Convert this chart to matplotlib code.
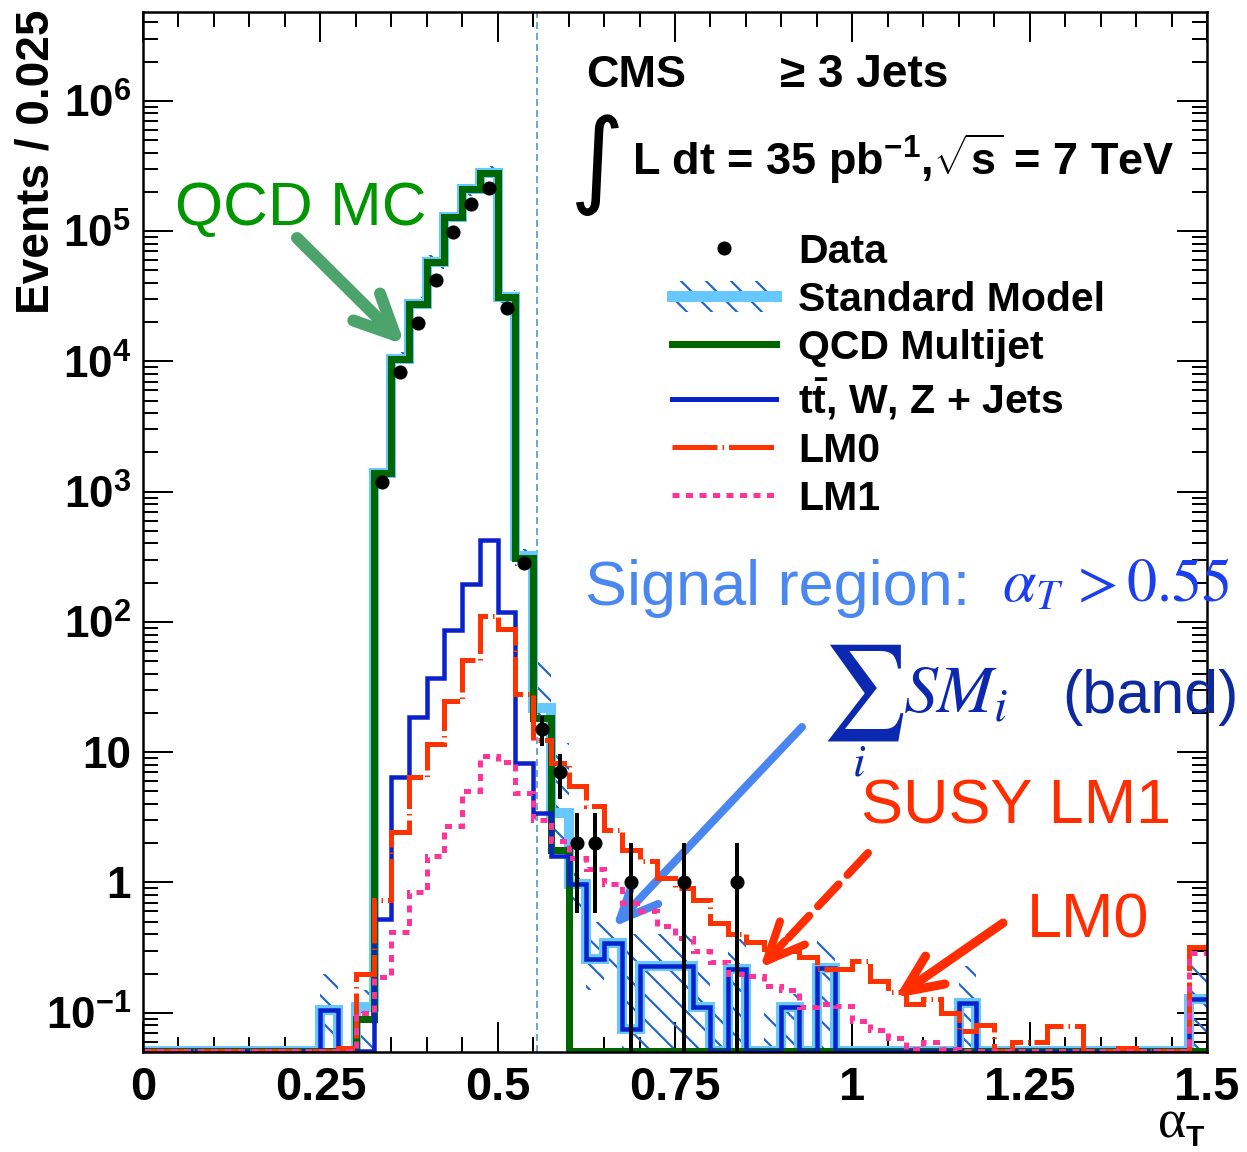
import numpy as np
import matplotlib
matplotlib.use("Agg")
import matplotlib.pyplot as plt
from matplotlib.lines import Line2D
from matplotlib.patches import Patch
from matplotlib.legend_handler import HandlerTuple
from matplotlib.ticker import FixedLocator, MultipleLocator, LogLocator, NullFormatter

W, H, DPI = 1247, 1152, 150
PT = 72.0 / DPI          # points per output pixel

# ---------------- data (60 bins of 0.025 in alpha_T, 0 .. 1.5) ----------------
bin_width = 0.025
n_bins = 60

qcd = [0]*12 + [0.09, 1400, 10400, 27400, 57500, 129000, 209000, 280000,
                31300, 311, 18.3, 1.79] + [0]*36

ewk = [0]*10 + [0.105, 0, 0.02, 0.52, 6.5, 18.5, 37.4, 86.5, 194, 427, 119,
                8.3, 3.4, 1.6, 0.97, 0.257, 0.345, 0.075, 0.228, 0.228, 0.228,
                0.11, 0, 0.215, 0, 0, 0.11, 0, 0.22] + [0]*7 + [0.118] + [0]*12 + [0.127]

lm0 = [0]*11 + [0.054, 0.2, 0.74, 2.46, 6.4, 11.5, 24.9, 50.7, 112, 88, 28,
                12.5, 8.3, 5.5, 3.85, 2.55, 1.79, 1.46, 1.09, 0.91, 0.74, 0.49,
                0.40, 0.35, 0.31, 0.30, 0.27, 0.215, 0.215, 0.25, 0.175, 0.145,
                0.116, 0.127, 0.10, 0.072, 0.08, 0, 0.06, 0.06, 0.079, 0.079,
                0, 0, 0.054, 0, 0, 0, 0.32]

lm1 = [0]*12 + [0.1, 0.187, 0.42, 0.84, 1.6, 2.7, 5.0, 9.35, 8.4, 4.9, 3.0,
                2.1, 1.55, 1.26, 0.97, 0.70, 0.60, 0.46, 0.377, 0.297, 0.245,
                0.20, 0.19, 0.16, 0.15, 0.11, 0.116, 0.113, 0.086, 0.074,
                0.064, 0.053, 0.06, 0.053] + [0]*13 + [0.29]

data = [0]*13 + [1180, 8340, 19800, 42100, 97700, 160000, 215000, 25500, 283,
                 15, 7, 2, 2, 0, 1, 0, 0, 1, 0, 0, 1] + [0]*26

# SM uncertainty band (lower / upper edge per bin)
band_hi = [0]*10 + [0.2, 0, 0.15, 1600, 11800, 31000, 65000, 146000, 236000,
                    316000, 35500, 360, 49, 11.8, 1.45, 0.5, 0.5, 0.4, 0.4, 0.4,
                    0.4, 0.22, 0.1, 0.37, 0, 0.12, 0.14, 0, 0.37] + [0]*7 + [0.23] + [0]*12 + [0.24]
band_lo = [0]*13 + [1250, 9300, 24500, 51000, 115000, 186000, 250000, 28000,
                    270, 19, 2.0, 0.5, 0.15, 0.2] + [0]*33

xtick_vals = [0, 0.25, 0.5, 0.75, 1.0, 1.25, 1.5]
xtick_labels = ["0", "0.25", "0.5", "0.75", "1", "1.25", "1.5"]
ytick_vals = [0.1, 1, 10, 100, 1e3, 1e4, 1e5, 1e6]
ytick_labels = [r"$\mathbf{10^{-1}}$", "1", "10", r"$\mathbf{10^{2}}$",
                r"$\mathbf{10^{3}}$", r"$\mathbf{10^{4}}$", r"$\mathbf{10^{5}}$",
                r"$\mathbf{10^{6}}$"]
signal_cut = 0.555

legend_labels = ["Data", "Standard Model", "QCD Multijet",
                 r"$\mathbf{t\bar{t}}$, W, Z + Jets", "LM0", "LM1"]

# ---------------- style ----------------
GREEN = "#006600"
BLUE = "#0a22cc"
RED = "#ff3300"
PINK = "#ff3399"
SMC = "#66c8ff"
HATCH = "#2266cc"

plt.rcParams.update({
    "font.family": ["Liberation Sans", "DejaVu Sans"],
    "mathtext.fontset": "custom",
    "mathtext.rm": "Liberation Sans:bold",
    "mathtext.bf": "Liberation Sans:bold",
    "mathtext.it": "Liberation Sans:bold:italic",
    "mathtext.sf": "Liberation Sans:bold",
    "hatch.linewidth": 2.2 * PT,
    "hatch.color": HATCH,
    "lines.scale_dashes": False,
})

YMIN, YMAX = 0.05, 4.8e6
FLOOR = YMIN * 1.02

edges = np.linspace(0, n_bins * bin_width, n_bins + 1)
centers = 0.5 * (edges[:-1] + edges[1:])

fig = plt.figure(figsize=(W / DPI, H / DPI), dpi=DPI)
ax = fig.add_axes([143 / W, 1 - 1052 / H, 1064 / W, 1040 / H])
ax.set_yscale("log")
ax.set_xlim(0, 1.5)
ax.set_ylim(YMIN, YMAX)

qcd_a = np.array(qcd, float)
ewk_a = np.array(ewk, float)
sm_a = qcd_a + ewk_a

# hatched SM band
lo = np.clip(np.array(band_lo, float), FLOOR, None)
hi = np.clip(np.array(band_hi, float), FLOOR, None)
ax.fill_between(edges, np.append(lo, lo[-1]), np.append(hi, hi[-1]), step="post",
                facecolor="none", edgecolor=HATCH, hatch="\\\\", linewidth=0, zorder=2)

# signal region line
ax.axvline(signal_cut, color="#4f8fd6", lw=1.6 * PT, ls=(0, (7 * PT, 4 * PT)), zorder=2.5)

# histograms
ax.stairs(np.maximum(sm_a, FLOOR), edges, baseline=None, color=SMC, lw=10 * PT, zorder=3)
ax.stairs(np.maximum(qcd_a, FLOOR), edges, baseline=None, color=GREEN, lw=7 * PT, zorder=4)
ax.stairs(np.maximum(ewk_a, FLOOR), edges, baseline=None, color=BLUE, lw=4.5 * PT, zorder=5)
ax.stairs(np.maximum(np.array(lm0, float), FLOOR), edges, baseline=None, color=RED,
          lw=5 * PT, ls=(0, (45 * PT, 5 * PT, 1.5 * PT, 5 * PT)), zorder=6)
ax.stairs(np.maximum(np.array(lm1, float), FLOOR), edges, baseline=None, color=PINK,
          lw=5 * PT, ls=(0, (7 * PT, 6.5 * PT)), zorder=7)

# data points
d = np.array(data, float)
m = d > 0
err = np.sqrt(d[m])
low = np.maximum(d[m] - err, YMIN * 0.5)
ax.errorbar(centers[m], d[m], yerr=[d[m] - low, err], fmt="o", color="k",
            ms=12 * PT, elinewidth=4 * PT, capsize=0, zorder=8)

# axes styling
for s in ax.spines.values():
    s.set_linewidth(2.5 * PT)
    s.set_zorder(10)
ax.xaxis.set_major_locator(FixedLocator(xtick_vals))
ax.set_xticklabels(xtick_labels)
ax.xaxis.set_minor_locator(MultipleLocator(0.05))
ax.yaxis.set_major_locator(FixedLocator(ytick_vals))
ax.set_yticklabels(ytick_labels)
ax.yaxis.set_minor_locator(LogLocator(base=10, subs=np.arange(2, 10), numticks=30))
ax.yaxis.set_minor_formatter(NullFormatter())
ax.tick_params(axis="both", which="both", direction="in", top=True, right=True,
               width=2 * PT, color="k")
ax.tick_params(which="major", length=30 * PT)
ax.tick_params(which="minor", length=15 * PT)
ax.tick_params(axis="x", which="major", pad=14 * PT, labelsize=47 * PT)
ax.tick_params(axis="y", which="major", pad=12 * PT, labelsize=44 * PT)
for t in ax.get_xticklabels() + ax.get_yticklabels():
    t.set_fontweight("bold")

# legend
LS_LM0 = (0, (45 * PT, 5 * PT, 1.5 * PT, 5 * PT))
LS_LM1 = (0, (7 * PT, 6.5 * PT))
handles = [
    Line2D([], [], marker="o", ls="none", color="k", ms=12 * PT),
    (Patch(facecolor="none", edgecolor=HATCH, hatch="\\\\", lw=0),
     Line2D([], [], color=SMC, lw=11 * PT)),
    Line2D([], [], color=GREEN, lw=7 * PT),
    Line2D([], [], color=BLUE, lw=5 * PT),
    Line2D([], [], color=RED, lw=5 * PT, ls=LS_LM0),
    Line2D([], [], color=PINK, lw=5 * PT, ls=LS_LM1),
]
LFS = 41 * PT
leg = ax.legend(handles, legend_labels, loc="upper left",
                bbox_to_anchor=((672 - 143) / 1064, (1052 - 233) / 1040),
                frameon=False, prop={"size": LFS, "weight": "bold"},
                handlelength=104 * PT / LFS,
                handleheight=33 * PT / LFS, handletextpad=22 * PT / LFS,
                labelspacing=0.24, borderpad=0, borderaxespad=0,
                handler_map={tuple: HandlerTuple(ndivide=1, pad=0)})


def fx(px):
    return px / W


def fy(py):
    return 1 - py / H


# header texts
fig.text(fx(586), fy(87), "CMS", fontsize=45 * PT, weight="bold")
fig.text(fx(780), fy(87), "\u2265 3 Jets", fontsize=46 * PT, weight="bold")
fig.text(fx(570), fy(165), "\u222b", fontsize=105 * PT, va="center",
         family="DejaVu Sans", weight="normal")
fig.text(fx(632), fy(175), r"L dt = 35 pb$^{-1}$,$\sqrt{\mathrm{s}}$ = 7 TeV",
         fontsize=45 * PT, weight="bold")

# axis titles
fig.text(fx(37), fy(10), "Events / 0.025", rotation=90, ha="center", va="top",
         fontsize=46 * PT, weight="bold")
fig.text(fx(1158), fy(1138), "\u03b1", family="Liberation Serif", fontsize=54 * PT)
fig.text(fx(1186), fy(1146), "T", fontsize=30 * PT, weight="bold")

# annotations
fig.text(fx(175), fy(225), "QCD MC", fontsize=62 * PT, color="#009600")
fig.text(fx(585), fy(605), "Signal region:", fontsize=63 * PT, color="#4a88f0")
fig.text(fx(1002), fy(602), r"$\alpha_T\,>0.55$", fontsize=60 * PT, color="#1a3ef0",
         math_fontfamily="stix")
fig.text(fx(821), fy(717), r"$\sum$", fontsize=95 * PT, color="#0a28b0",
         math_fontfamily="stix")
fig.text(fx(852), fy(776), r"$i$", fontsize=46 * PT, color="#0a28b0",
         math_fontfamily="stix")
fig.text(fx(903), fy(713), r"$SM_i$", fontsize=68 * PT, color="#0a28b0",
         math_fontfamily="stix")
fig.text(fx(1062), fy(713), "(band)", fontsize=61 * PT, color="#0c2a9e")
fig.text(fx(861), fy(823), "SUSY LM1", fontsize=63 * PT, color="#ff2d00")
fig.text(fx(1027), fy(938), "LM0", fontsize=63 * PT, color="#ff2d00")


def arrow(tail, tip, color, lw_px, hl_px, hw_px):
    ax.annotate("", xy=(tip[0], H - tip[1]), xytext=(tail[0], H - tail[1]),
                xycoords="figure pixels", textcoords="figure pixels",
                annotation_clip=False,
                arrowprops=dict(arrowstyle="->, head_length=%.3f, head_width=%.3f"
                                % (hl_px * PT / 10, hw_px * PT / 10),
                                mutation_scale=10, color=color, lw=lw_px * PT,
                                shrinkA=0, shrinkB=0, capstyle="round",
                                joinstyle="round"))


arrow((297, 238), (405, 345), "#4ca36c", 12, 40, 19)
arrow((802, 727), (613, 927), "#4a86f0", 8, 38, 17)
arrow((1003, 923), (895, 998), "#ff2d00", 9, 38, 17)
# dashed shaft + solid head for SUSY LM1
ax.annotate("", xy=(778, H - 949), xytext=(868, H - 853),
            xycoords="figure pixels", textcoords="figure pixels", annotation_clip=False,
            arrowprops=dict(arrowstyle="-", color="#ff2d00", lw=8 * PT,
                            linestyle=(0, (30 * PT, 13 * PT)), shrinkA=0, shrinkB=0))
arrow((785, 941), (760, 968), "#ff2d00", 8, 38, 17)

fig.savefig("out.png", dpi=DPI)
